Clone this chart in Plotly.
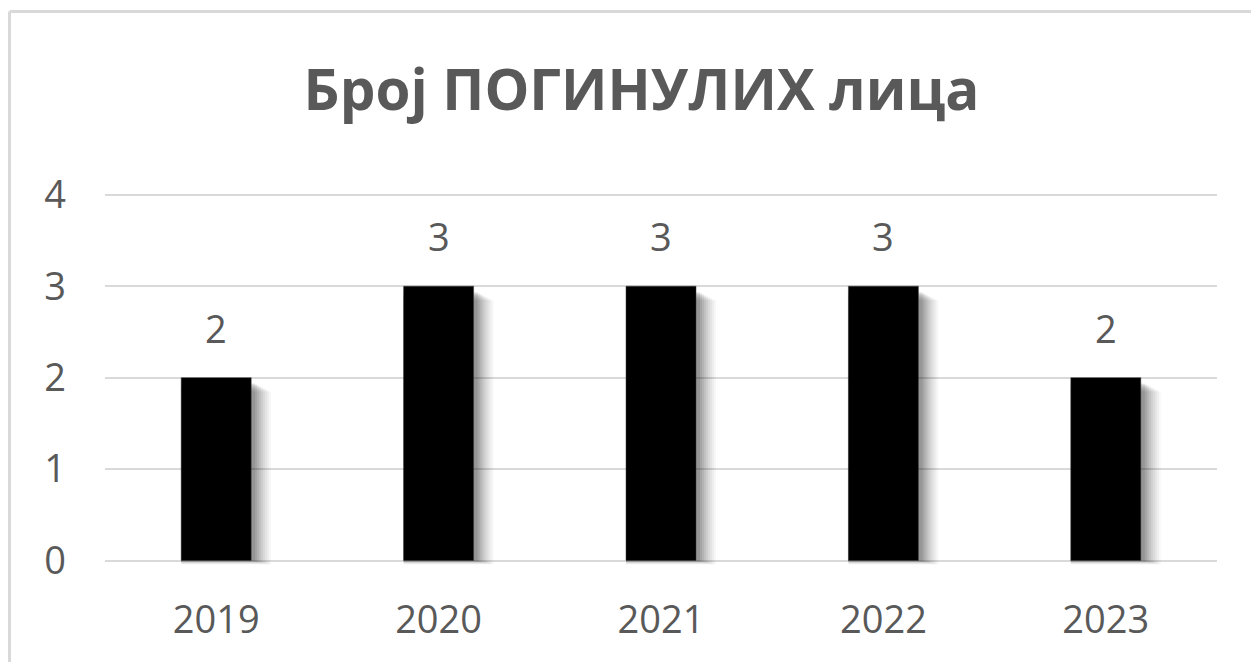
import plotly.graph_objects as go

years = ["2019", "2020", "2021", "2022", "2023"]
deaths = [2, 3, 3, 3, 2]
y_ticks = [0, 1, 2, 3, 4]
title_text = "Број ПОГИНУЛИХ лица"

OFF = 8  # default page body margin
W, H = 1259 - 2 * OFF, 670 - 2 * OFF
PL, PR = 105 - OFF, 1217 - OFF
Y_TOP_PX, Y_BOT_PX = 191.8 - OFF, 566.2 - OFF
PX_X = (PR - PL) / 5.0
PX_Y = (Y_BOT_PX - Y_TOP_PX) / 4.09

bar_w = 70 / PX_X
txt = "#595959"
grid = "#d9d9d9"

fig = go.Figure()

# soft shadow layers (right & below)
layers = [(20, 4, 14, 0.03), (18, 3.5, 13, 0.035), (16, 3, 12, 0.04), (14, 2.5, 11, 0.045),
          (12, 2, 10, 0.05), (10, 1.5, 9, 0.06), (8, 1, 8, 0.07), (6, 1, 7, 0.08), (4, 0.5, 6, 0.09)]
for r_px, b_px, t_px, op in layers:
    base = -b_px / PX_Y
    fig.add_trace(go.Bar(
        x=years, y=[v - t_px / PX_Y - base for v in deaths], base=base,
        width=bar_w + r_px / PX_X, offset=-bar_w / 2,
        marker=dict(color=f"rgba(0,0,0,{op})", line=dict(width=0)),
        hoverinfo="skip", showlegend=False))

fig.add_trace(go.Bar(
    x=years, y=deaths, width=bar_w, offset=-bar_w / 2,
    marker=dict(color="#000000", line=dict(color="#3a3a3a", width=0.5)),
    showlegend=False))

for i, v in enumerate(deaths):
    fig.add_annotation(x=i, y=v, text=str(v), showarrow=False, yanchor="bottom",
                       yshift=22, font=dict(family="Open Sans", size=38, color=txt))

# chart-area border: only the top and left edges fall inside the picture
bx0 = (9.5 - OFF - PL) / (PR - PL)
bx1 = (W + 20 - PL) / (PR - PL)
by0 = (Y_BOT_PX - (H + 20)) / (Y_BOT_PX - Y_TOP_PX)
by1 = (Y_BOT_PX - (11 - OFF)) / (Y_BOT_PX - Y_TOP_PX)
fig.add_shape(type="line", xref="paper", yref="paper", x0=bx0, x1=bx1, y0=by1, y1=by1,
              line=dict(color=grid, width=3), layer="above")
fig.add_shape(type="line", xref="paper", yref="paper", x0=bx0, x1=bx0, y0=by0, y1=by1,
              line=dict(color=grid, width=3), layer="above")

fig.update_layout(
    width=W, height=H,
    margin=dict(l=PL, r=W - PR, t=Y_TOP_PX, b=H - Y_BOT_PX, pad=0),
    paper_bgcolor="white", plot_bgcolor="white",
    barmode="overlay",
    title=dict(text=title_text, x=(641.5 - OFF) / W, xref="container", xanchor="center",
               y=(H - (90 - OFF)) / H, yref="container", yanchor="middle",
               font=dict(family="Open Sans", size=56.5, color=txt, weight="bold")),
    xaxis=dict(type="category", range=[-0.5, 4.5], showgrid=False, zeroline=False,
               showline=False, ticks="", ticklabelstandoff=28,
               tickfont=dict(family="Open Sans", size=38, color=txt)),
    yaxis=dict(range=[-0.06, 4.03], tickvals=y_ticks, ticktext=[str(t) for t in y_ticks],
               showgrid=True, gridcolor=grid, gridwidth=2,
               zeroline=True, zerolinecolor=grid, zerolinewidth=2,
               showline=False, ticks="", ticklabelstandoff=38,
               tickfont=dict(family="Open Sans", size=38, color=txt)),
)

fig.write_html("out.html")
